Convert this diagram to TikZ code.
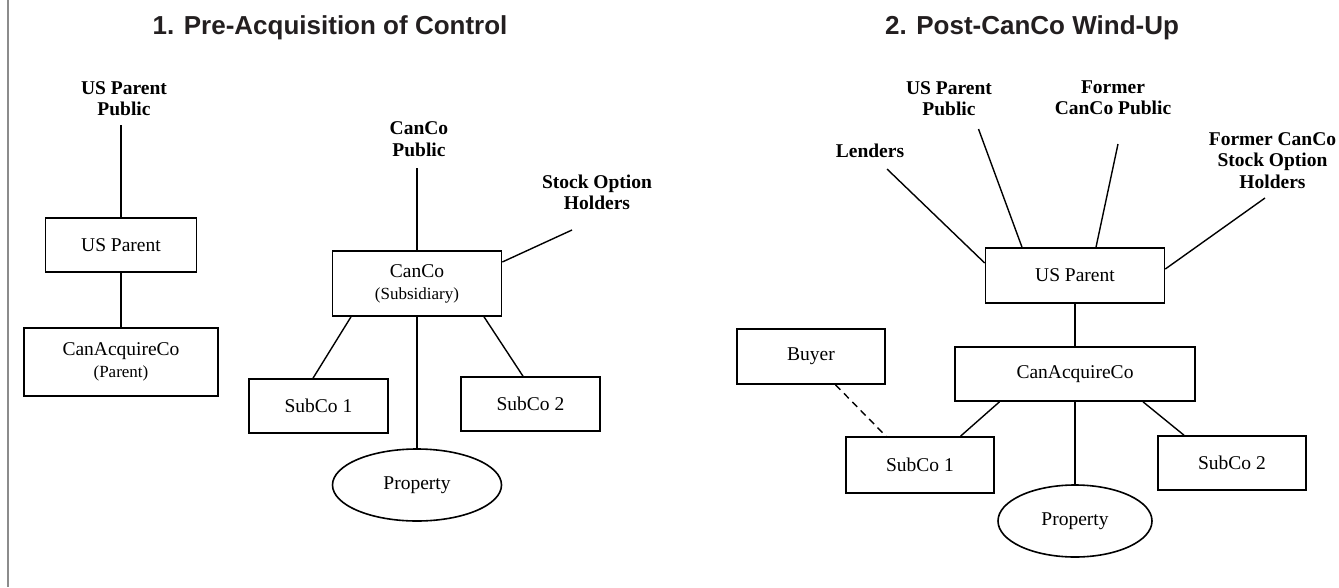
\documentclass[tikz,border=0pt]{standalone}
\usepackage{fontspec}
\setmainfont{Liberation Serif}
\newfontfamily\headfont{Liberation Sans}
\usetikzlibrary{shapes.geometric}
\definecolor{headink}{RGB}{35,31,32}
\definecolor{rulegray}{RGB}{140,140,140}
\begin{document}
\begin{tikzpicture}[x=1pt,y=-1pt,
  box/.style={draw, line width=1.6pt, rectangle, inner sep=0pt, align=center,
    font=\fontsize{19.5}{22}\selectfont},
  oval/.style={draw, line width=1.6pt, ellipse, inner sep=0pt,
    font=\fontsize{19.5}{22}\selectfont},
  party/.style={align=center, inner sep=0pt,
    font=\fontsize{19.5}{21.5}\selectfont\bfseries},
  heading/.style={inner sep=0pt, text=headink,
    font=\headfont\bfseries\fontsize{26}{30}\selectfont},
  link/.style={line width=1.4pt},
  sale/.style={link, dash pattern=on 7pt off 5pt}]
\newcommand\sidenote[1]{{\fontsize{17}{19}\selectfont #1}}

% frame and page extent
\useasboundingbox (0,0) rectangle (1339,587);
\draw[line width=2pt, draw=rulegray] (7.5,0) -- (7.5,587);

% ---------- 1. Pre-Acquisition of Control ----------
\node[heading] (head1) at (330,28) {1. Pre-Acquisition of Control};

\node[party] (usppubA) at (124,98.5) {US Parent\\Public};
\node[box, minimum width=151pt, minimum height=54pt] (uspA) at (121,245) {US Parent};
\node[box, minimum width=194pt, minimum height=68pt] (cacA) at (121,362) {CanAcquireCo\\\sidenote{(Parent)}};

\node[party] (cancopub) at (419,139) {CanCo\\Public};
\node[party] (sohA) at (597,192.5) {Stock Option\\Holders};
\node[box, minimum width=169pt, minimum height=65pt] (canco) at (417,283.5) {CanCo\\\sidenote{(Subsidiary)}};
\node[box, minimum width=139pt, minimum height=54pt] (subA1) at (318.5,406) {SubCo 1};
\node[box, minimum width=139pt, minimum height=54pt] (subA2) at (530.5,404) {SubCo 2};
\node[oval, minimum width=169pt, minimum height=72pt] (propA) at (417,485) {Property};

\coordinate (usppubAend) at (121,125);
\coordinate (cancopubend) at (417,168);
\coordinate (sohAend) at (572,230);

\draw[link] (usppubAend) -- (uspA.north);
\draw[link] (uspA.south) -- (cacA.north);
\draw[link] (cancopubend) -- (canco.north);
\draw[link] (sohAend) -- ([yshift=21.5pt]canco.east);
\draw[link] ([xshift=-66pt]canco.south) -- ([xshift=-5.5pt]subA1.north);
\draw[link] ([xshift=67pt]canco.south) -- ([xshift=-7.5pt]subA2.north);
\draw[link] (canco.south) -- (propA.north);

% ---------- 2. Post-CanCo Wind-Up ----------
\node[heading] (head2) at (1032,28) {2. Post-CanCo Wind-Up};

\node[party] (lenders) at (870,151) {Lenders};
\node[party] (usppubB) at (949,98.5) {US Parent\\Public};
\node[party] (fcpub) at (1113,97.5) {Former\\CanCo Public};
\node[party] (fsoh) at (1272.5,160.5) {Former CanCo\\Stock Option\\Holders};

\node[box, minimum width=179pt, minimum height=55pt] (uspB) at (1075,275.5) {US Parent};
\node[box, minimum width=240pt, minimum height=54pt] (cacB) at (1075,374) {CanAcquireCo};
\node[box, minimum width=148pt, minimum height=55pt] (buyer) at (811,356.5) {Buyer};
\node[box, minimum width=148pt, minimum height=56pt] (subB1) at (920,465) {SubCo 1};
\node[box, minimum width=148pt, minimum height=54pt] (subB2) at (1232,463) {SubCo 2};
\node[oval, minimum width=154pt, minimum height=72pt] (propB) at (1075,521) {Property};

\coordinate (lendersend) at (887,169);
\coordinate (usppubBend) at (978.5,129);
\coordinate (fcpubend) at (1118,144);
\coordinate (fsohend) at (1265,198);

\draw[link] (lendersend) -- ([yshift=12.5pt]uspB.west);
\draw[link] (usppubBend) -- ([xshift=-53pt]uspB.north);
\draw[link] (fcpubend) -- ([xshift=21pt]uspB.north);
\draw[link] (fsohend) -- ([yshift=6.5pt]uspB.east);
\draw[link] (uspB.south) -- (cacB.north);
\draw[link] ([xshift=-75.5pt]cacB.south) -- ([xshift=40.5pt]subB1.north);
\draw[link] ([xshift=68pt]cacB.south) -- ([xshift=-48pt]subB2.north);
\draw[link] (cacB.south) -- (propB.north);
\draw[sale] ([xshift=24.5pt]buyer.south) -- ([xshift=-34pt]subB1.north);
\end{tikzpicture}
\end{document}
